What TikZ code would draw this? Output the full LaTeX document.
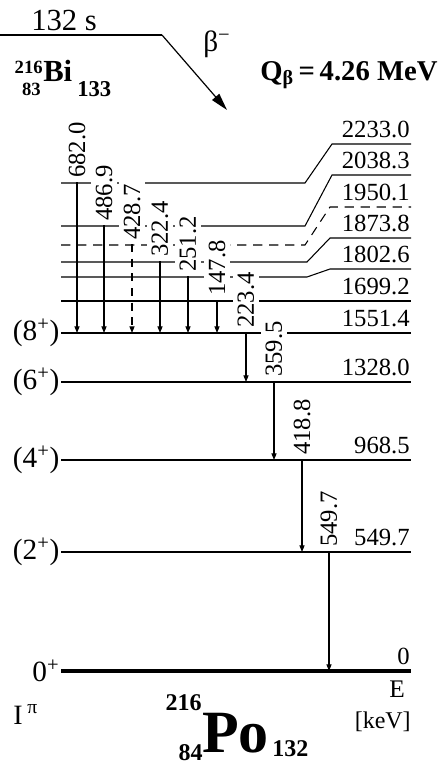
\documentclass[tikz,border=0pt]{standalone}
\usepackage{fontspec}
\setmainfont{Liberation Serif}
\usetikzlibrary{arrows.meta,positioning}
\tikzset{
  lvl/.style    ={line width=0.8pt},
  lvldash/.style={line width=0.8pt,dash pattern=on 7pt off 5pt},
  gnd/.style    ={line width=2.5pt},
  bilvl/.style  ={line width=2.2pt},
  gam/.style    ={-{Triangle[length=5pt,width=3.8pt]},line width=0.8pt},
  gamdash/.style={gam,dash pattern=on 6pt off 5pt},
  betaar/.style ={-{Triangle[length=13pt,width=7pt]},line width=0.9pt},
  glbl/.style   ={rotate=90,anchor=west,fill=white,inner xsep=3pt,inner ysep=3.5pt,font=\fontsize{18.5}{18.5}\selectfont},
  elbl/.style   ={anchor=base east,inner sep=0pt,font=\fontsize{18.5}{18.5}\selectfont},
  spin/.style   ={anchor=east,inner sep=1pt,font=\fontsize{22}{22}\selectfont},
  txt/.style    ={inner sep=0pt},
}
\begin{document}
\begin{tikzpicture}[x=0.75pt,y=-0.75pt]
  \useasboundingbox (0,0) rectangle (440,767);
  % parent level and beta branch
  \coordinate (bil) at (0,35); \coordinate (bir) at (162,35); \coordinate (btip) at (227,110);
  \draw[bilvl] (bil) -- (bir);
  \draw[betaar] (bir) -- (btip);
  \node[txt,anchor=base west,font=\fontsize{23}{23}\selectfont] (hl) at (31,31) {132 s};
  \node[txt,anchor=base west,font=\fontsize{22}{22}\selectfont] (bm) at (203,52) {β\textsuperscript{−}};
  \node[txt,anchor=base west,font=\bfseries\fontsize{23}{23}\selectfont] (bi) at (43,82) {Bi};
  \node[txt,anchor=base east,font=\bfseries\fontsize{14}{14}\selectfont] (bia) at (43,74) {216};
  \node[txt,anchor=base east,font=\bfseries\fontsize{14}{14}\selectfont] (biz) at (41,95) {83};
  \node[txt,anchor=base west,font=\bfseries\fontsize{17}{17}\selectfont] (bin) at (77,97) {133};
  \node[txt,anchor=base west,font=\bfseries\fontsize{21.5}{21.5}\selectfont] (qb) at (260,80) {Q\textsubscript{β}\,=\,4.26 MeV};

  % levels of the daughter
  \coordinate (l2233) at (61,183); \coordinate (l2038) at (61,226);
  \coordinate (l1950) at (61,245); \coordinate (l1873) at (61,262);
  \coordinate (l1802) at (61,277); \coordinate (l1699) at (61,301);
  \coordinate (l1551) at (61,333); \coordinate (l1328) at (61,382);
  \coordinate (l968)  at (61,460); \coordinate (l549)  at (61,552);
  \coordinate (l0)    at (61,671);
  \draw[lvl] (l2233) -- (305,183) -- (332,144) -- (411,144);
  \draw[lvl] (l2038) -- (305,226) -- (332,175) -- (411,175);
  \draw[lvldash] (l1950) -- (305,245) -- (330,207) -- (411,207);
  \draw[lvl] (l1873) -- (307,262) -- (330,238) -- (411,238);
  \draw[lvl] (l1802) -- (307,277) -- (330,269) -- (411,269);
  \draw[lvl] (l1699) -- (411,301);
  \draw[lvl] (l1551) -- (411,333);
  \draw[lvl] (l1328) -- (411,382);
  \draw[lvl] (l968) -- (411,460);
  \draw[lvl] (l549) -- (411,552);
  \draw[gnd] (l0) -- (411,671);

  % gamma lines
  \node[glbl] (g682) at (77,182) {682.0};
  \node[glbl] (g487) at (104,225) {486.9};
  \node[glbl] (g429) at (132,244) {428.7};
  \node[glbl] (g322) at (160,261) {322.4};
  \node[glbl] (g251) at (188,276) {251.2};
  \node[glbl] (g148) at (217,300) {147.8};
  \node[glbl] (g223) at (246,332) {223.4};
  \node[glbl] (g360) at (274,381) {359.5};
  \node[glbl] (g419) at (302,459) {418.8};
  \node[glbl] (g550) at (329,551) {549.7};
  \draw[gam] (g682.west) -- (g682.west |- l1551);
  \draw[gam] (g487.west) -- (g487.west |- l1551);
  \draw[gamdash] (g429.west) -- (g429.west |- l1551);
  \draw[gam] (g322.west) -- (g322.west |- l1551);
  \draw[gam] (g251.west) -- (g251.west |- l1551);
  \draw[gam] (g148.west) -- (g148.west |- l1551);
  \draw[gam] (g223.west) -- (g223.west |- l1328);
  \draw[gam] (g360.west) -- (g360.west |- l968);
  \draw[gam] (g419.west) -- (g419.west |- l549);
  \draw[gam] (g550.west) -- (g550.west |- l0);

  % energies
  \node[elbl] (e2233) at (410,137) {2233.0};
  \node[elbl] (e2038) at (410,168) {2038.3};
  \node[elbl] (e1950) at (410,200) {1950.1};
  \node[elbl] (e1873) at (410,231) {1873.8};
  \node[elbl] (e1802) at (410,262) {1802.6};
  \node[elbl] (e1699) at (410,294) {1699.2};
  \node[elbl] (e1551) at (410,326) {1551.4};
  \node[elbl] (e1328) at (410,375) {1328.0};
  \node[elbl] (e968)  at (410,453) {968.5};
  \node[elbl] (e549)  at (410,545) {549.7};
  \node[elbl] (e0)    at (410,664) {0};

  % spins
  \node[spin,left=0pt of l1551] (s8) {(8\textsuperscript{+})};
  \node[spin,left=0pt of l1328] (s6) {(6\textsuperscript{+})};
  \node[spin,left=0pt of l968]  (s4) {(4\textsuperscript{+})};
  \node[spin,left=0pt of l549]  (s2) {(2\textsuperscript{+})};
  \node[spin,left=0pt of l0]    (s0) {0\textsuperscript{+}};

  % bottom captions
  \node[txt,anchor=base west,font=\fontsize{21}{21}\selectfont] (ipi) at (13,724) {I\,\textsuperscript{π}};
  \node[txt,anchor=base,font=\fontsize{19}{19}\selectfont] (eu) at (397,697) {E};
  \node[txt,anchor=base east,font=\fontsize{18}{18}\selectfont] (ku) at (411,728) {[keV]};
  \node[txt,anchor=base west,font=\bfseries\fontsize{45}{45}\selectfont] (po) at (202,752) {Po};
  \node[txt,anchor=base east,font=\bfseries\fontsize{18}{18}\selectfont] (poa) at (202,710) {216};
  \node[txt,anchor=base east,font=\bfseries\fontsize{18}{18}\selectfont] (poz) at (203,760) {84};
  \node[txt,anchor=base west,font=\bfseries\fontsize{18}{18}\selectfont] (pon) at (272,756) {132};
\end{tikzpicture}
\end{document}
